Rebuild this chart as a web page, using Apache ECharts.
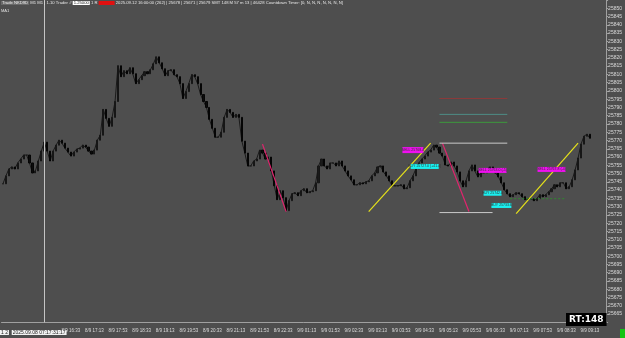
<!DOCTYPE html>
<html>
<head>
<meta charset="utf-8">
<style>
html,body{margin:0;padding:0;background:#4e4e4e;}
#chart{width:625px;height:338px;}
</style>
<script src="https://cdn.jsdelivr.net/npm/echarts@6/dist/echarts.min.js"></script>
</head>
<body>
<div id="chart"></div>
<script>
// closing price of every bar (left -> right)
var closes = [
  25743.8, 25748.6, 25752.8, 25754.0, 25752.8, 25756.4, 25758.8, 25761.2, 25761.2, 25756.4,
  25750.4, 25751.6, 25757.6, 25763.6, 25769.0, 25763.6, 25757.6, 25763.6, 25767.2, 25770.2,
  25768.4, 25765.4, 25763.0, 25760.6, 25763.0, 25764.8, 25765.4, 25767.2, 25766.0, 25763.6,
  25761.8, 25764.2, 25770.2, 25773.2, 25788.8, 25783.4, 25778.6, 25784.0, 25793.6, 25815.2,
  25808.6, 25812.2, 25810.4, 25814.0, 25810.4, 25804.4, 25806.8, 25809.2, 25811.6, 25810.4,
  25812.8, 25816.4, 25820.6, 25817.0, 25813.4, 25809.2, 25812.2, 25812.8, 25809.8, 25808.6,
  25804.4, 25795.4, 25799.6, 25804.4, 25809.8, 25808.6, 25804.4, 25797.8, 25793.6, 25790.0,
  25782.8, 25777.4, 25772.0, 25772.0, 25775.0, 25784.0, 25788.8, 25787.0, 25784.0, 25785.8,
  25784.0, 25769.6, 25762.4, 25754.6, 25754.6, 25757.6, 25758.8, 25764.2, 25762.4, 25758.8,
  25760.0, 25751.6, 25742.6, 25734.2, 25739.6, 25735.4, 25727.6, 25733.6, 25737.8, 25738.4,
  25736.6, 25739.6, 25740.8, 25738.4, 25739.0, 25739.6, 25744.4, 25754.6, 25758.8, 25754.6,
  25752.8, 25756.4, 25756.4, 25754.6, 25757.6, 25754.6, 25751.6, 25748.6, 25746.2, 25743.2,
  25743.2, 25744.4, 25743.8, 25745.0, 25745.6, 25748.6, 25750.4, 25754.0, 25754.6, 25751.0,
  25748.6, 25745.6, 25742.6, 25742.6, 25742.6, 25743.2, 25740.8, 25741.4, 25745.6, 25748.6,
  25752.8, 25756.4, 25758.8, 25760.6, 25763.0, 25764.2, 25767.2, 25766.0, 25762.4, 25760.6,
  25755.2, 25754.6, 25757.0, 25754.6, 25751.0, 25745.6, 25742.0, 25745.6, 25751.6, 25755.2,
  25751.6, 25748.0, 25750.4, 25750.4, 25752.2, 25754.0, 25752.2, 25750.4, 25748.0, 25744.4,
  25740.2, 25737.8, 25736.0, 25737.2, 25738.4, 25737.8, 25736.0, 25734.2, 25734.8, 25734.8,
  25733.6, 25734.8, 25737.2, 25736.0, 25737.2, 25739.0, 25740.8, 25743.2, 25742.0, 25744.4,
  25744.4, 25740.8, 25742.0, 25746.2, 25752.2, 25759.4, 25767.8, 25772.6, 25773.8, 25771.4
];
var totalBars = 205;

// time axis labels
var tickLabels = [
  '8/9 16:33', '8/9 17:13', '8/9 17:53', '8/9 18:33', '8/9 19:13', '8/9 19:53',
  '8/9 20:33', '8/9 21:13', '8/9 21:53', '8/9 22:33', '9/9 01:13', '9/9 01:53',
  '9/9 02:33', '9/9 03:13', '9/9 03:53', '9/9 04:33', '9/9 05:13', '9/9 05:53',
  '9/9 06:33', '9/9 07:13', '9/9 07:53', '9/9 08:33', '9/9 09:13'
];
var tickStart = 23, tickStep = 8;

// price axis
var priceMin = 25660, priceMax = 25855, priceStep = 5;

// drawn objects: [barIndex, price]
var yellowLines = [
  [[124, 25727.0], [145, 25768.4]],
  [[174, 25725.8], [195, 25768.4]]
];
var pinkLines = [
  [[88, 25767.8], [96, 25727.0]],
  [[149, 25768.4], [158, 25727.0]]
];
var levelPrices = [25795.4, 25785.8, 25781.0, 25768.4, 25726.4];
var levelRanges = [[148, 171], [148, 171], [148, 171], [148, 171], [148, 166]];
var dashPrice = 25734.8;
var dashRange = [172, 191];

var magentaIdx = [139, 166, 186];
var magentaPrice = [25764.2, 25751.9, 25752.5];
var magentaText = ['SELL 25768.4', 'SELL 25763.0 (-5)', 'SELL 25767.8 (-4)'];
var cyanIdx = [143, 166, 169];
var cyanPrice = [25754.3, 25738.1, 25730.7];
var cyanText = ['BUY 25727.0 (+41.4)', 'BUY 25742.0', 'BUY 25733.6'];

var separatorBar = 14;

var chart = echarts.init(document.getElementById('chart'));

var cats = [];
for (var i = 0; i < totalBars; i++) cats.push('');
tickLabels.forEach(function (t, k) {
  var idx = tickStart + k * tickStep;
  if (idx < totalBars) cats[idx] = t;
});

var candles = closes.map(function (c, i) {
  var o = i === 0 ? c : closes[i - 1];
  return [o, c, Math.min(o, c), Math.max(o, c)];
});
var last = closes[closes.length - 1];

var series = [];
// thin trace joining the closes, so the bars read as one jagged line
series.push({
  type: 'line', data: closes, symbol: 'none', silent: true, animation: false, z: 1,
  lineStyle: { color: '#141414', width: 0.9 }
});
series.push({
  type: 'candlestick',
  data: candles,
  barWidth: 1.6,
  z: 2,
  itemStyle: { color: '#1a1a1a', color0: '#0c0c0c', borderColor: '#161616', borderColor0: '#050505', borderWidth: 1 },
  markLine: {
    silent: true,
    symbol: 'none',
    animation: false,
    data: [
      { xAxis: separatorBar, lineStyle: { color: '#c4c4c4', width: 1, type: 'solid' }, label: { show: false } },
      { yAxis: last, lineStyle: { opacity: 0 },
        label: { show: true, position: 'end', distance: 1, backgroundColor: '#f2f2f2', color: '#111',
          fontSize: 5, padding: [1, 2], formatter: function () { return last.toFixed(1); } } }
    ]
  }
});

function seg(pts, color, width, type) {
  return {
    type: 'line', data: pts, symbol: 'none', silent: true, animation: false, z: 3,
    lineStyle: { color: color, width: width, type: type || 'solid' }
  };
}
yellowLines.forEach(function (l) { series.push(seg(l, '#e6e21a', 1.2)); });
pinkLines.forEach(function (l) { series.push(seg(l, '#e2246e', 1.2)); });
var levelColors = ['#8c3a3a', '#4e8c86', '#3d9a3d', '#c9c9c9', '#c9c9c9'];
levelPrices.forEach(function (p, k) {
  series.push(seg([[levelRanges[k][0], p], [levelRanges[k][1], p]], levelColors[k], 1));
});
series.push(seg([[dashRange[0], dashPrice], [dashRange[1], dashPrice]], '#2f8a2f', 1, [2, 2]));

function boxes(idx, price, text, fill, sizes) {
  return {
    type: 'scatter', symbol: 'rect', silent: true, animation: false, z: 5,
    data: idx.map(function (x, k) { return { value: [x, price[k]], symbolSize: sizes[k], text: text[k] }; }),
    itemStyle: { color: fill, opacity: 1 },
    label: { show: true, position: 'inside', fontSize: 3.5, color: '#333',
      formatter: function (p) { return p.data.text; } }
  };
}
series.push(boxes(magentaIdx, magentaPrice, magentaText, '#f010f0', [[21, 6], [28, 5], [28, 5]]));
series.push(boxes(cyanIdx, cyanPrice, cyanText, '#19f0f0', [[28, 5], [18, 5], [20, 5]]));

var option = {
  backgroundColor: '#4e4e4e',
  animation: false,
  grid: { left: 0, right: 11, top: -2.33, bottom: 15.67 },
  xAxis: {
    type: 'category',
    data: cats,
    boundaryGap: true,
    axisLine: { show: true, lineStyle: { color: '#a0a0a0', width: 1 } },
    axisTick: { show: false },
    axisLabel: { interval: 0, fontSize: 4.5, color: '#dcdcdc', margin: 6 },
    splitLine: { show: false }
  },
  yAxis: {
    type: 'value',
    position: 'right',
    min: priceMin, max: priceMax, interval: priceStep,
    axisLine: { show: true, lineStyle: { color: '#a0a0a0', width: 1 } },
    axisTick: { show: true, length: 2, lineStyle: { color: '#a0a0a0' } },
    axisLabel: { fontSize: 5, color: '#dcdcdc', margin: 2,
      formatter: function (v) { return (v === priceMin || v === priceMax) ? '' : v; } },
    splitLine: { show: false }
  },
  graphic: [
    { type: 'text', left: 1, top: 1, z: 10, style: {
      text: '{a|Trade NKD9D} M1 M1 | 1.10 Trader # {w|1.25000} 1 R {r|            } 2025.09.12 16:00:00 (262) | 25678 | 25671 | 25679 SMT 148 M 57 m 13 | 46428 Countdown Timer: [0, N, N, N, N, N, N, N]',
      fontSize: 4.2, fill: '#e6e6e6',
      rich: {
        a: { fontSize: 4.2, fill: '#f0f0f0', backgroundColor: '#6a6a6a', padding: [0, 1] },
        w: { fontSize: 4.2, fill: '#222', backgroundColor: '#ffffff', padding: [0, 1] },
        r: { fontSize: 4.2, fill: '#fff', backgroundColor: '#e01010', padding: [0, 1] }
      }
    } },
    { type: 'text', left: 1, top: 9, z: 10, style: { text: 'MA1', fontSize: 4, fill: '#e0e0e0' } },
    { type: 'text', left: 0, top: 330, z: 10, style: {
      text: '{w|1 2}  {w|2025.09.08 07:17:31:17}', fontSize: 5,
      rich: { w: { fontSize: 5, fill: '#222', backgroundColor: '#f2f2f2', padding: [0, 1] } }
    } },
    { type: 'text', left: 566, top: 313, z: 10, style: {
      text: 'RT:148', fontSize: 9, fontWeight: 'bold', fill: '#ffffff',
      backgroundColor: '#000000', padding: [2, 3], fontFamily: 'DejaVu Sans'
    } },
    { type: 'rect', left: 620, top: 329, z: 10, shape: { width: 5, height: 9 }, style: { fill: '#14c414' } }
  ],
  series: series
};
chart.setOption(option);
</script>
</body>
</html>
